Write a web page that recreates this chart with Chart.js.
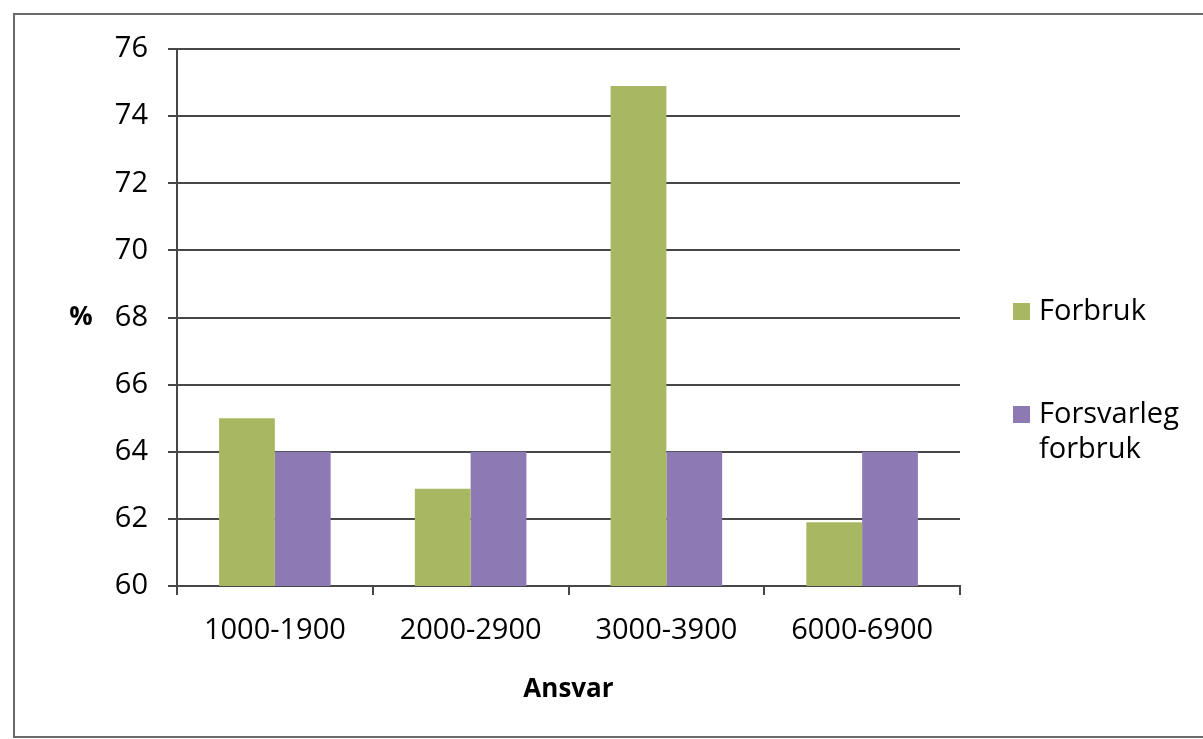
<!DOCTYPE html>
<html>
<head>
<meta charset="utf-8">
<script src="https://cdn.jsdelivr.net/npm/chart.js@4.4.1/dist/chart.umd.min.js"></script>
<style>
    body { margin: 0; background: #fff; }
    #wrap { position: relative; width: 1203px; height: 739px; overflow: hidden; }
    #frame { position: absolute; left: 13px; top: 13px; width: 1200px; height: 721px; border: 2px solid #6a6a6a; }
    canvas { position: absolute; left: 0; top: 0; }
</style>
</head>
<body>
<div id="wrap">
    <div id="frame"></div>
    <canvas id="barChart" width="1203" height="739"></canvas>
</div>
<script>
// Data
const categories = ['1000-1900', '2000-2900', '3000-3900', '6000-6900'];
const forbruk = [65, 62.9, 74.9, 61.9];
const forsvarlegForbruk = [64, 64, 64, 64];
const seriesNames = ['Forbruk', 'Forsvarleg forbruk'];
const legendLines = [['Forbruk'], ['Forsvarleg', 'forbruk']];
const seriesColors = ['#a8b862', '#8d7ab5'];
const yMin = 60;
const yMax = 76;
const yStep = 2;
const xTitle = 'Ansvar';
const yTitle = '%';

const FONT = "'Open Sans', 'Noto Sans', sans-serif";
const gridColor = '#474747';

// draws the unrotated "%" title and the wrapped legend on the right
const sideTextPlugin = {
    id: 'sideText',
    afterDraw(chart) {
        const ctx = chart.ctx;
        const area = chart.chartArea;
        ctx.save();
        ctx.fillStyle = '#000';
        ctx.textBaseline = 'middle';

        // y title
        ctx.font = 'bold 26px ' + FONT;
        ctx.textAlign = 'center';
        ctx.fillText(yTitle, area.left - 96, chart.scales.y.getPixelForValue(68));

        // legend
        ctx.font = '29px ' + FONT;
        ctx.textAlign = 'left';
        const starts = [area.top + 263, area.top + 366];
        legendLines.forEach((lines, i) => {
            const y0 = starts[i];
            ctx.fillStyle = seriesColors[i];
            ctx.fillRect(area.right + 53, y0 - 9, 17, 17);
            ctx.fillStyle = '#000';
            lines.forEach((line, j) => {
                ctx.fillText(line, area.right + 79, y0 + j * 35);
            });
        });
        ctx.restore();
    }
};

const ctx = document.getElementById('barChart').getContext('2d');
const chart = new Chart(ctx, {
    type: 'bar',
    data: {
        labels: categories,
        datasets: [{
            label: seriesNames[0],
            data: forbruk,
            backgroundColor: seriesColors[0],
            borderWidth: 0
        }, {
            label: seriesNames[1],
            data: forsvarlegForbruk,
            backgroundColor: seriesColors[1],
            borderWidth: 0
        }]
    },
    options: {
        responsive: false,
        animation: false,
        devicePixelRatio: 1,
        layout: {
            padding: { left: 0, right: 243, top: 49, bottom: 0 }
        },
        datasets: {
            bar: {
                categoryPercentage: 0.57,
                barPercentage: 1.0
            }
        },
        plugins: {
            legend: { display: false },
            tooltip: { enabled: false }
        },
        scales: {
            x: {
                afterFit: function(scale) { scale.height = 153; },
                grid: {
                    display: true,
                    drawOnChartArea: false,
                    offset: true,
                    color: gridColor,
                    lineWidth: 2,
                    tickLength: 9
                },
                border: { display: true, color: gridColor, width: 2 },
                ticks: {
                    color: '#000',
                    padding: 18,
                    font: { family: FONT, size: 29 },
                    maxRotation: 0
                },
                title: {
                    display: true,
                    text: xTitle,
                    color: '#000',
                    font: { family: FONT, size: 26, weight: 'bold' },
                    padding: { top: 0, bottom: 34 }
                }
            },
            y: {
                min: yMin,
                max: yMax,
                afterFit: function(scale) { scale.width = 177; },
                grid: {
                    color: gridColor,
                    lineWidth: 2,
                    tickLength: 9
                },
                border: { display: true, color: gridColor, width: 2 },
                ticks: {
                    stepSize: yStep,
                    color: '#000',
                    padding: 20,
                    font: { family: FONT, size: 29 }
                }
            }
        }
    },
    plugins: [sideTextPlugin]
});
</script>
</body>
</html>
